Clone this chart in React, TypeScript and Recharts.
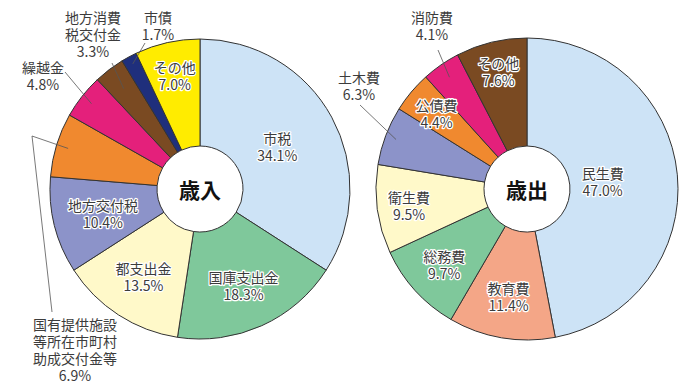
import { PieChart, Pie, Cell } from "recharts";

// 歳入 (revenue)
const revenueNames = [
  "市税",
  "国庫支出金",
  "都支出金",
  "地方交付税",
  "国有提供施設等所在市町村助成交付金等",
  "繰越金",
  "地方消費税交付金",
  "市債",
  "その他",
];
const revenueValues = [34.1, 18.3, 13.5, 10.4, 6.9, 4.8, 3.3, 1.7, 7.0];

// 歳出 (expenditure)
const expenseNames = ["民生費", "教育費", "総務費", "衛生費", "土木費", "公債費", "消防費", "その他"];
const expenseValues = [47.0, 11.4, 9.7, 9.5, 6.3, 4.4, 4.1, 7.6];

// how each name is broken over lines in the label
const labelLines: Record<string, string[]> = {
  国有提供施設等所在市町村助成交付金等: ["国有提供施設", "等所在市町村", "助成交付金等"],
  地方消費税交付金: ["地方消費", "税交付金"],
};

const revenueColors = ["#cde3f6", "#7fc89b", "#fff9c9", "#8c93c9", "#f0892f", "#e4207b", "#7a4a22", "#1f2f7c", "#ffec00"];
const expenseColors = ["#cde3f6", "#f4a687", "#7fc89b", "#fff9c9", "#8c93c9", "#f0892f", "#e4207b", "#7a4a22"];

const FONT = "'Noto Sans CJK JP', 'Noto Sans', sans-serif";
const RAD = Math.PI / 180;

// label placement: inside labels sit at radius r, outside ones get a leader line
type Inside = { r: number };
type Outside = { start: number; line: [number, number][]; text: [number, number] };
const revenueLayout: Record<string, Inside | Outside> = {
  市税: { r: 88 },
  国庫支出金: { r: 106 },
  都支出金: { r: 104 },
  地方交付税: { r: 100 },
  国有提供施設等所在市町村助成交付金等: { start: 138, line: [[-168, -53], [-148, 123]], text: [-125, 135] },
  繰越金: { start: 138, line: [[-135, -117]], text: [-157, -122] },
  地方消費税交付金: { start: 126, line: [[-88, -126]], text: [-107, -172] },
  市債: { start: 142, line: [[-55, -146]], text: [-42, -172] },
  その他: { r: 116 },
};
const expenseLayout: Record<string, Inside | Outside> = {
  民生費: { r: 76 },
  教育費: { r: 109 },
  総務費: { r: 112 },
  衛生費: { r: 119 },
  土木費: { start: 140, line: [[-167, -84]], text: [-168, -112] },
  公債費: { r: 118 },
  消防費: { start: 136, line: [[-89, -139]], text: [-95, -172] },
  その他: { r: 121 },
};

const revenueData = revenueNames.map((name, i) => ({ name, value: revenueValues[i] }));
const expenseData = expenseNames.map((name, i) => ({ name, value: expenseValues[i] }));

const LINE_H = 17;
const FS = 14;

const makeLabel = (layout: Record<string, Inside | Outside>, title: string) => (props: any) => {
  const { cx, cy, midAngle, name, value, index } = props;
  const spec = layout[name];
  const lines = [...(labelLines[name] ?? [name]), `${value.toFixed(1)}%`];
  const dir = (r: number): [number, number] => [cx + r * Math.cos(-midAngle * RAD), cy + r * Math.sin(-midAngle * RAD)];

  const center =
    index === 0 ? (
      <text x={cx} y={cy} textAnchor="middle" dominantBaseline="central" fontSize={21} fontWeight="bold" fill="#111" fontFamily={FONT}>
        {title}
      </text>
    ) : null;

  const block = (x: number, top: number, halo: boolean) => (
    <text
      x={x}
      y={top}
      textAnchor="middle"
      dominantBaseline="central"
      fontSize={FS}
      fill="#3c3c3c"
      stroke={halo ? "#fff" : "none"}
      strokeWidth={halo ? 2.5 : 0}
      strokeLinejoin="round"
      paintOrder="stroke"
      fontFamily={FONT}
    >
      {lines.map((t, i) => (
        <tspan key={i} x={x} dy={i === 0 ? 0 : LINE_H}>
          {t}
        </tspan>
      ))}
    </text>
  );

  if ("r" in spec) {
    const [x, y] = dir(spec.r);
    const top = y - ((lines.length - 1) * LINE_H) / 2;
    return (
      <g>
        {center}
        {block(x, top, true)}
      </g>
    );
  }

  const [sx, sy] = dir(spec.start);
  const pts = [[sx, sy], ...spec.line.map(([dx, dy]) => [cx + dx, cy + dy])].map((p) => p.join(",")).join(" ");
  return (
    <g>
      {center}
      <polyline points={pts} fill="none" stroke="#555" strokeWidth={0.8} />
      {block(cx + spec.text[0], cy + spec.text[1], false)}
    </g>
  );
};

export default function App() {
  return (
    <div style={{ width: 690, height: 382, background: "#fff" }}>
      <style>{`body{margin:0}`}</style>
      <PieChart width={690} height={382}>
        <Pie
          data={revenueData}
          dataKey="value"
          nameKey="name"
          cx={195}
          cy={184}
          outerRadius={150}
          innerRadius={43}
          startAngle={90}
          endAngle={-270}
          stroke="#333"
          strokeWidth={1}
          label={makeLabel(revenueLayout, "歳入")}
          labelLine={false}
          isAnimationActive={false}
        >
          {revenueData.map((d, i) => (
            <Cell key={d.name} fill={revenueColors[i]} />
          ))}
        </Pie>
        <Pie
          data={expenseData}
          dataKey="value"
          nameKey="name"
          cx={522}
          cy={184}
          outerRadius={151}
          innerRadius={43}
          startAngle={90}
          endAngle={-270}
          stroke="#333"
          strokeWidth={1}
          label={makeLabel(expenseLayout, "歳出")}
          labelLine={false}
          isAnimationActive={false}
        >
          {expenseData.map((d, i) => (
            <Cell key={d.name} fill={expenseColors[i]} />
          ))}
        </Pie>
      </PieChart>
    </div>
  );
}
